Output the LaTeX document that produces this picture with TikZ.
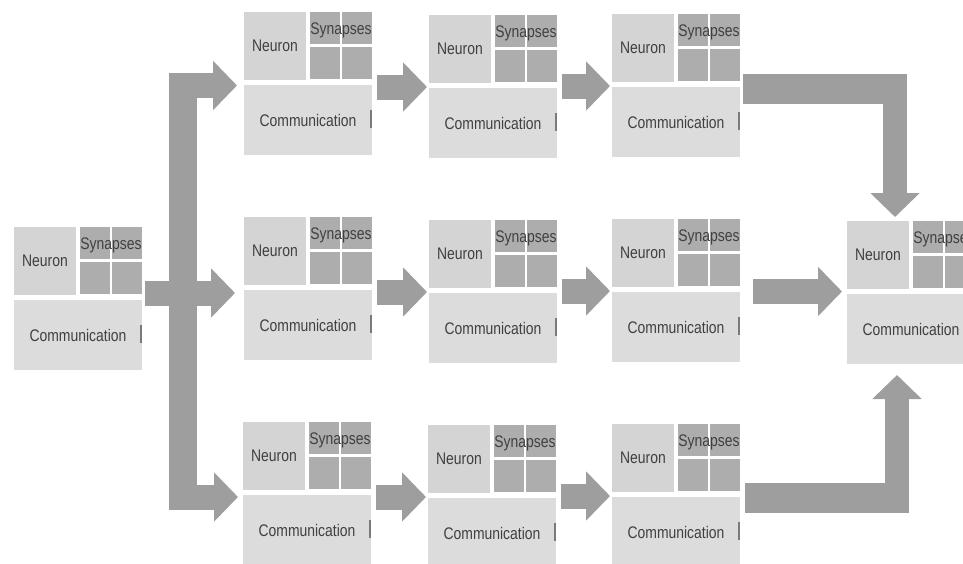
\documentclass[tikz,border=0pt]{standalone}
\usepackage{fontspec}
\setmainfont{Liberation Sans}
\usetikzlibrary{arrows.meta,calc}

\definecolor{neurongray}{HTML}{D4D4D4}
\definecolor{commgray}{HTML}{DCDCDC}
\definecolor{syngray}{HTML}{ADADAD}
\definecolor{arrowgray}{HTML}{9E9E9E}
\definecolor{labelgray}{HTML}{404040}
\definecolor{tickgray}{HTML}{7A7A7A}

% narrow the labels a little
\newcommand\lbl[1]{\scalebox{0.83}[1]{#1}}

\tikzset{
  part/.style={fill=#1, draw=none, inner sep=0pt, outer sep=0pt, anchor=north west,
    font=\fontsize{16.8}{18}\selectfont, text=labelgray},
  neuronbox/.style={part=neurongray, minimum width=62pt, minimum height=68pt},
  syncell/.style={part=syngray, minimum width=30pt, minimum height=32pt},
  commbox/.style={part=commgray, minimum width=128pt, minimum height=70pt},
  frame/.style={inner sep=0pt, outer sep=0pt, minimum width=128pt, minimum height=143pt,
    anchor=north west},
  synlabel/.style={inner sep=0pt, font=\fontsize{16.8}{18}\selectfont, text=labelgray},
  tick/.style={draw=tickgray, line width=1.3pt},
  bigarrow/.style={draw=arrowgray, line width=25pt,
    -{Triangle[length=24pt,width=48pt]}},
  barfill/.style={fill=arrowgray}
}

% one processing core: neuron, 2x2 synapse array, communication unit
\newcommand\cellblock[3]{%
  \node[frame] (#1) at (#2,#3) {};
  \node[neuronbox] (#1-n) at (#1.north west) {\lbl{Neuron}};
  \node[syncell] (#1-s1) at ($(#1.north west)+(66,0)$) {};
  \node[syncell] (#1-s2) at ($(#1.north west)+(98,0)$) {};
  \node[syncell] (#1-s3) at ($(#1.north west)+(66,35)$) {};
  \node[syncell] (#1-s4) at ($(#1.north west)+(98,35)$) {};
  \node[synlabel] at ($(#1-s1.center)!0.5!(#1-s2.center)+(0,2)$) {\lbl{Synapses}};
  \node[commbox] (#1-c) at ($(#1.north west)+(0,73)$) {\lbl{Communication}};
  \draw[tick] ($(#1.north east)+(-1,98)$) -- ++(0,18);
  \coordinate (#1-in) at ($(#1.north west)+(0,72)$);
  \coordinate (#1-out) at ($(#1.north east)+(0,72)$);
}

% horizontal arrow between two cores of a row
\newcommand\rowarrow[2]{%
  \draw[bigarrow] ($(#2-in -| #1-out)+(5,0)$) -- ($(#2-in)+(-2,0)$);
}

\begin{document}
\begin{tikzpicture}[x=1pt,y=-1pt]
  \path[use as bounding box] (0,0) rectangle (963,563);
  \fill[white] (0,0) rectangle (963,563);
  \clip (0,0) rectangle (963,563);

  % source core
  \cellblock{b0}{14}{227}
  % three parallel chains
  \cellblock{b11}{244}{12}
  \cellblock{b12}{429}{15}
  \cellblock{b13}{612}{14}
  \cellblock{b21}{244}{217}
  \cellblock{b22}{429}{220}
  \cellblock{b23}{612}{219}
  \cellblock{b31}{243}{422}
  \cellblock{b32}{428}{425}
  \cellblock{b33}{612}{424}
  % sink core
  \cellblock{bF}{847}{221}

  % fan-out from the source core
  \coordinate (fork-in) at ($(b0.north east)+(3,66)$);
  \coordinate (trunk-top) at (169,73);
  \coordinate (trunk-bot) at (197,509);
  \coordinate (fork-top) at (169,85.5);
  \coordinate (fork-bot) at (169,497);
  \fill[barfill] (trunk-top) rectangle (trunk-bot);
  \draw[bigarrow] (fork-in) -- ($(fork-in -| b21.west)+(-9,0)$);
  \draw[bigarrow] (fork-top) -- ($(fork-top -| b11.west)+(-7,0)$);
  \draw[bigarrow] (fork-bot) -- ($(fork-bot -| b31.west)+(-5,0)$);

  % chains
  \rowarrow{b11}{b12}
  \rowarrow{b12}{b13}
  \rowarrow{b21}{b22}
  \rowarrow{b22}{b23}
  \rowarrow{b31}{b32}
  \rowarrow{b32}{b33}

  % fan-in to the sink core
  \coordinate (mt-start) at ($(b13.north east)+(3,60)$);
  \coordinate (mt-corner) at (895,74);
  \fill[barfill] (mt-start) rectangle (907,104);
  \draw[bigarrow, line width=24pt] (mt-corner) -- ($(mt-corner |- bF.north)+(0,-4)$);

  \coordinate (mm-start) at ($(b23.north east)+(13,72.5)$);
  \draw[bigarrow] (mm-start) -- ($(mm-start -| bF.west)+(-5,0)$);

  \coordinate (mb-start) at ($(b33.north east)+(5,59)$);
  \coordinate (mb-corner) at (897,513);
  \fill[barfill] (mb-start) rectangle (909,513);
  \draw[bigarrow, line width=24pt] (mb-corner) -- ($(mb-corner |- bF.south)+(0,11)$);
\end{tikzpicture}
\end{document}
